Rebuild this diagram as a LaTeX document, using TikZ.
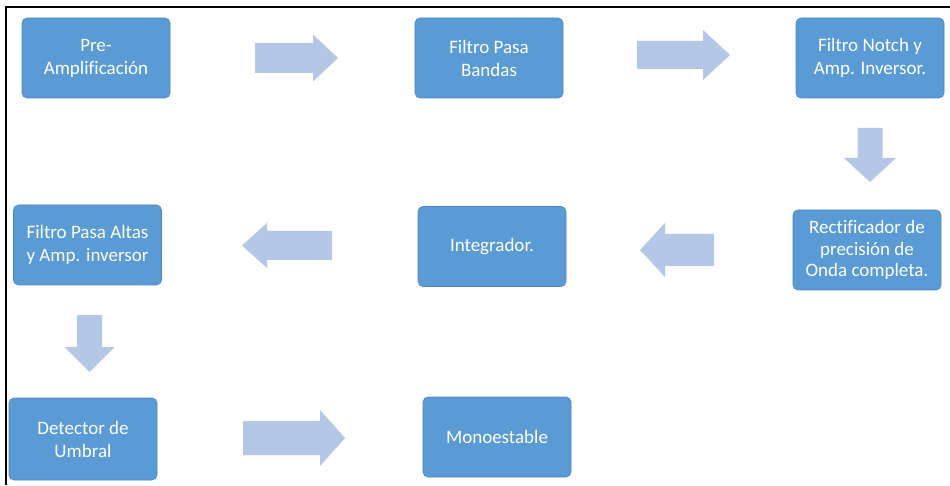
\documentclass[tikz,border=0pt]{standalone}
\usepackage{fontspec}
\setmainfont{Carlito}[Ligatures=NoCommon]
\definecolor{boxfill}{HTML}{5B9BD5}
\definecolor{boxline}{HTML}{4A86C2}
\definecolor{arrowfill}{HTML}{B4C7E7}
\tikzset{
  blockbox/.style={rectangle, rounded corners=5pt, fill=boxfill, draw=boxline, line width=0.6pt,
    minimum width=148pt, minimum height=80pt, inner sep=2pt, align=center, text=white,
    font=\fontsize{19}{23}\selectfont},
  framel/.style={line width=1.8pt, black}
}
% horizontal block arrow: tail x, head-base x, tip x, centre y, shaft half, head half
\newcommand\harrow[6]{\fill[arrowfill] (#1,#4+#5) -- (#2,#4+#5) -- (#2,#4+#6) -- (#3,#4) -- (#2,#4-#6) -- (#2,#4-#5) -- (#1,#4-#5) -- cycle;}
% vertical block arrow: tail y, head-base y, tip y, centre x, shaft half, head half
\newcommand\varrow[6]{\fill[arrowfill] (#4-#5,#1) -- (#4-#5,#2) -- (#4-#6,#2) -- (#4,#3) -- (#4+#6,#2) -- (#4+#5,#2) -- (#4+#5,#1) -- cycle;}
\begin{document}
\begin{tikzpicture}[x=1pt,y=1pt]
\useasboundingbox (0,0) rectangle (950,485);
\fill[white] (0,0) rectangle (950,485);
% frame (top and left only)
\coordinate (ftl) at (6,478);
\coordinate (ftr) at (950,478);
\coordinate (fbl) at (6,0);
\draw[framel] (fbl) -- (ftl) -- (ftr);
% boxes
\node[blockbox] (pre) at (96,427) {Pre-\\Amplificación};
\node[blockbox] (fpb) at (489,427) {Filtro Pasa\\Bandas};
\node[blockbox] (fn) at (870,427) {Filtro Notch y\\Amp. Inversor.};
\node[blockbox, font=\fontsize{19}{21.5}\selectfont] (rec) at (867,235) {Rectificador de\\precisión de\\Onda completa.};
\node[blockbox] (int) at (492,238.5) {Integrador.};
\node[blockbox] (fpa) at (87.5,240) {Filtro Pasa Altas\\y Amp. inversor};
\node[blockbox, minimum height=82pt] (det) at (83,46) {Detector de\\Umbral};
\node[blockbox] (mono) at (497,48) {Monoestable};
% block arrows
\harrow{255}{313}{338}{427}{15}{23.5}
\harrow{637}{703}{730}{430}{14}{25}
\varrow{357}{327}{303}{870}{12.5}{26}
\harrow{714}{665}{640}{235}{16}{27}
\harrow{332}{267}{242}{239.5}{14.5}{22.5}
\varrow{170}{138}{113}{89.5}{12.5}{25}
\harrow{243}{320}{345}{47}{17}{28}
\end{tikzpicture}
\end{document}
